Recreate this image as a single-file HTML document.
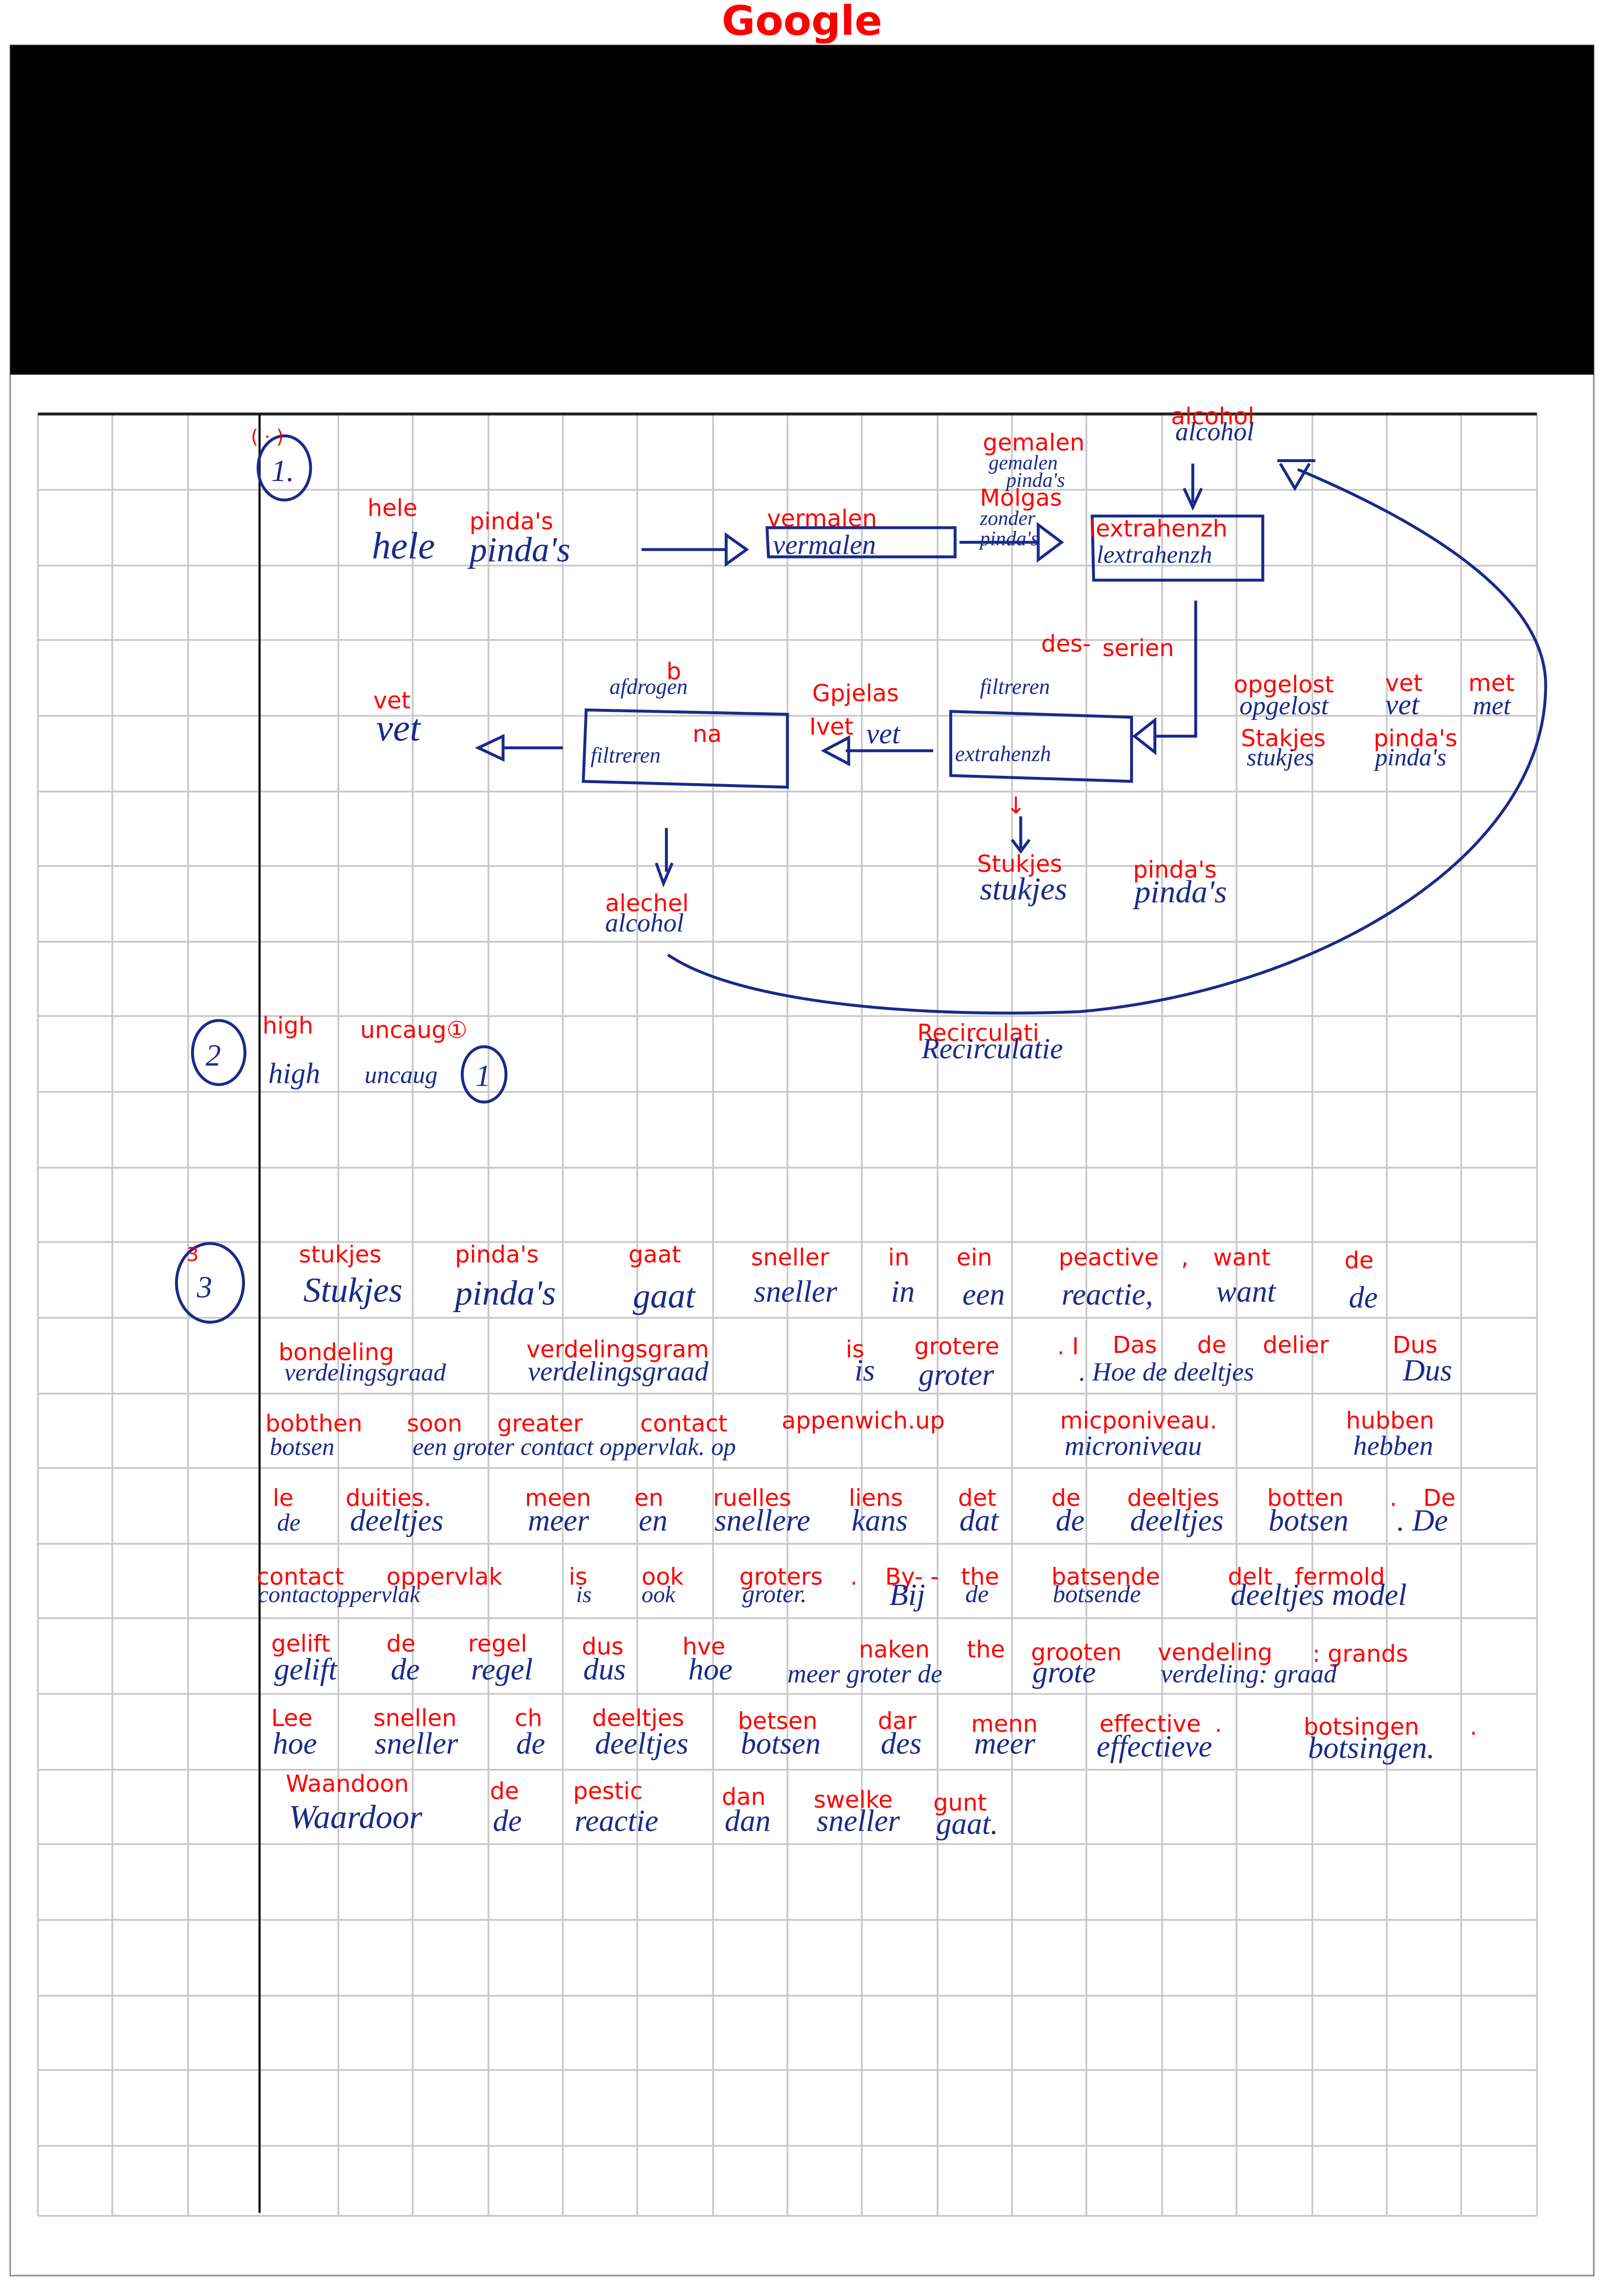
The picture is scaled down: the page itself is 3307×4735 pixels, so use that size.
<!DOCTYPE html>
<html><head><meta charset="utf-8"><style>
html,body{margin:0;padding:0;background:#fff}
svg{display:block}
.r{fill:#f00;font-family:"DejaVu Sans","Liberation Sans",sans-serif;font-size:16px}
.h{fill:#1a2a8a;font-family:"Liberation Serif",serif;font-style:italic;font-size:21px}
.b{fill:none;stroke:#1a2a8a;stroke-width:2}
</style></head><body>
<svg width="3307" height="4735" viewBox="0 0 1100 1575" preserveAspectRatio="none" xmlns="http://www.w3.org/2000/svg">
<rect width="1100" height="1575" fill="#fff"/>
<text x="550" y="24" text-anchor="middle" style="fill:#f00;font-family:'DejaVu Sans',sans-serif;font-weight:bold;font-size:28px">Google</text>
<rect x="7" y="31" width="1086" height="1530" fill="none" stroke="#888" stroke-width="1"/>
<rect x="7" y="31" width="1086" height="226" fill="#000"/>
<g stroke="#c8c8c8" stroke-width="1.2">
<line x1="26" y1="284" x2="26" y2="1520"/><line x1="77" y1="284" x2="77" y2="1520"/><line x1="129" y1="284" x2="129" y2="1520"/>
<line x1="232" y1="284" x2="232" y2="1520"/><line x1="283" y1="284" x2="283" y2="1520"/><line x1="335" y1="284" x2="335" y2="1520"/>
<line x1="386" y1="284" x2="386" y2="1520"/><line x1="437" y1="284" x2="437" y2="1520"/><line x1="489" y1="284" x2="489" y2="1520"/>
<line x1="540" y1="284" x2="540" y2="1520"/><line x1="591" y1="284" x2="591" y2="1520"/><line x1="643" y1="284" x2="643" y2="1520"/>
<line x1="694" y1="284" x2="694" y2="1520"/><line x1="745" y1="284" x2="745" y2="1520"/><line x1="797" y1="284" x2="797" y2="1520"/>
<line x1="848" y1="284" x2="848" y2="1520"/><line x1="900" y1="284" x2="900" y2="1520"/><line x1="951" y1="284" x2="951" y2="1520"/>
<line x1="1002" y1="284" x2="1002" y2="1520"/><line x1="1054" y1="284" x2="1054" y2="1520"/>
<line x1="26" y1="336" x2="1054" y2="336"/><line x1="26" y1="388" x2="1054" y2="388"/><line x1="26" y1="439" x2="1054" y2="439"/>
<line x1="26" y1="491" x2="1054" y2="491"/><line x1="26" y1="543" x2="1054" y2="543"/><line x1="26" y1="594" x2="1054" y2="594"/>
<line x1="26" y1="646" x2="1054" y2="646"/><line x1="26" y1="697" x2="1054" y2="697"/><line x1="26" y1="749" x2="1054" y2="749"/>
<line x1="26" y1="801" x2="1054" y2="801"/><line x1="26" y1="852" x2="1054" y2="852"/><line x1="26" y1="904" x2="1054" y2="904"/>
<line x1="26" y1="956" x2="1054" y2="956"/><line x1="26" y1="1007" x2="1054" y2="1007"/><line x1="26" y1="1059" x2="1054" y2="1059"/>
<line x1="26" y1="1110" x2="1054" y2="1110"/><line x1="26" y1="1162" x2="1054" y2="1162"/><line x1="26" y1="1214" x2="1054" y2="1214"/>
<line x1="26" y1="1265" x2="1054" y2="1265"/><line x1="26" y1="1317" x2="1054" y2="1317"/><line x1="26" y1="1369" x2="1054" y2="1369"/>
<line x1="26" y1="1420" x2="1054" y2="1420"/><line x1="26" y1="1472" x2="1054" y2="1472"/><line x1="26" y1="1520" x2="1054" y2="1520"/>
</g>
<line x1="26" y1="284" x2="1054" y2="284" stroke="#222" stroke-width="2"/>
<line x1="178" y1="284" x2="178" y2="1518" stroke="#111" stroke-width="1.5"/>

<ellipse cx="195" cy="321" rx="18" ry="22" class="b"/>
<text x="186" y="330" class="h" font-size="20">1.</text>
<path class="b" d="M440 377 H498 M498 367 L512 377 L498 387 Z"/>
<path class="b" d="M526 362 H655 V382 H527 Z"/>
<path class="b" d="M658 372 H712 M712 360 L728 372 L712 384 Z"/>
<path class="b" d="M749 354 H866 V398 H750 Z"/>
<path class="b" d="M818 318 V345 M812 335 L818 348 L824 335"/>
<path class="b" d="M876 316 H902 M878 318 L888 335 L898 318"/>
<path class="b" d="M820 412 V505 H792 M792 494 L778 505 L792 516 Z"/>
<path class="b" d="M652 488 L776 492 V536 L652 532 Z"/>
<path class="b" d="M640 515 H580 M582 506 L565 515 L582 524 Z"/>
<path class="b" d="M402 487 L540 490 V540 L400 536 Z"/>
<path class="b" d="M386 513 H345 M345 505 L328 513 L345 521 Z"/>
<path class="b" d="M700 560 V582 M694 576 L700 584 L706 576"/>
<path class="b" d="M457 568 V598 M450 592 L455 606 L461 592"/>
<path class="b" d="M458 655 C510 690 640 698 740 694 C900 680 1060 590 1060 470 C1060 410 980 360 890 322"/>
<ellipse cx="150" cy="722" rx="18" ry="22" class="b"/>
<text x="141" y="731" class="h">2</text>
<ellipse cx="332" cy="737" rx="15" ry="19" class="b"/>
<text x="326" y="745" class="h" font-size="18">1</text>
<ellipse cx="144" cy="880" rx="23" ry="27" class="b"/>
<text x="135" y="890" class="h" font-size="26">3</text>

<g class="r">
<text x="172" y="304" font-size="13">( · )</text>
<text x="803" y="291">alcohol</text>
<text x="674" y="309">gemalen</text>
<text x="672" y="347">Molgas</text>
<text x="252" y="354">hele</text>
<text x="322" y="363">pinda's</text>
<text x="526" y="361">vermalen</text>
<text x="747" y="368">lextrahenzh</text>
<text x="714" y="447">des-</text>
<text x="756" y="450">serien</text>
<text x="457" y="466">b</text>
<text x="557" y="481">Gpjelas</text>
<text x="256" y="486">vet</text>
<text x="846" y="475">opgelost</text>
<text x="950" y="474">vet</text>
<text x="1007" y="474">met</text>
<text x="555" y="504">Ivet</text>
<text x="475" y="509">na</text>
<text x="851" y="512">Stakjes</text>
<text x="942" y="512">pinda's</text>
<text x="690" y="558">↓</text>
<text x="670" y="598">Stukjes</text>
<text x="777" y="602">pinda's</text>
<text x="415" y="625">alechel</text>
<text x="180" y="709">high</text>
<text x="247" y="712">uncaug①</text>
<text x="629" y="714">Recirculati</text>
</g>
<g class="h">
<text x="806" y="302" font-size="18">alcohol</text>
<text x="678" y="322" font-size="14">gemalen</text>
<text x="690" y="334" font-size="14">pinda's</text>
<text x="672" y="360" font-size="14">zonder</text>
<text x="672" y="374" font-size="14">pinda's</text>
<text x="255" y="383" font-size="26">hele</text>
<text x="322" y="385" font-size="24">pinda's</text>
<text x="530" y="380" font-size="19">vermalen</text>
<text x="752" y="386" font-size="17">lextrahenzh</text>
<text x="258" y="508" font-size="26">vet</text>
<text x="850" y="490" font-size="18">opgelost</text>
<text x="950" y="490" font-size="20">vet</text>
<text x="1010" y="490" font-size="18">met</text>
<text x="855" y="525" font-size="17">stukjes</text>
<text x="943" y="525" font-size="17">pinda's</text>
<text x="594" y="510" font-size="20">vet</text>
<text x="655" y="522" font-size="15">extrahenzh</text>
<text x="405" y="523" font-size="15">filtreren</text>
<text x="418" y="476" font-size="15">afdrogen</text>
<text x="672" y="476" font-size="15">filtreren</text>
<text x="672" y="617" font-size="22">stukjes</text>
<text x="778" y="619" font-size="22">pinda's</text>
<text x="415" y="639" font-size="18">alcohol</text>
<text x="184" y="743" font-size="20">high</text>
<text x="250" y="743" font-size="17">uncaug</text>
<text x="632" y="726" font-size="20">Recirculatie</text>
</g>

<g class="r">
<text x="128" y="865" font-size="13">3</text>
<text x="205" y="866">stukjes</text><text x="312" y="866">pinda's</text><text x="431" y="866">gaat</text><text x="515" y="868">sneller</text><text x="609" y="868">in</text><text x="656" y="868">ein</text><text x="726" y="868">peactive</text><text x="810" y="868">,</text><text x="832" y="868">want</text><text x="922" y="870">de</text>
<text x="191" y="933">bondeling</text><text x="361" y="931">verdelingsgram</text><text x="580" y="931">is</text><text x="627" y="929">grotere</text><text x="725" y="929">. I</text><text x="763" y="928">Das</text><text x="821" y="928">de</text><text x="866" y="928">delier</text><text x="955" y="928">Dus</text>
<text x="182" y="982">bobthen</text><text x="279" y="982">soon</text><text x="341" y="982">greater</text><text x="439" y="982">contact</text><text x="536" y="980">appenwich.up</text><text x="727" y="980">micponiveau.</text><text x="923" y="980">hubben</text>
<text x="187" y="1033">le</text><text x="237" y="1033">duities.</text><text x="360" y="1033">meen</text><text x="435" y="1033">en</text><text x="489" y="1033">ruelles</text><text x="582" y="1033">liens</text><text x="657" y="1033">det</text><text x="721" y="1033">de</text><text x="773" y="1033">deeltjes</text><text x="869" y="1033">botten</text><text x="953" y="1033">.</text><text x="976" y="1033">De</text>
<text x="176" y="1087">contact</text><text x="265" y="1087">oppervlak</text><text x="390" y="1087">is</text><text x="440" y="1087">ook</text><text x="507" y="1087">groters</text><text x="583" y="1087">.</text><text x="607" y="1087">By- -</text><text x="659" y="1087">the</text><text x="721" y="1087">batsende</text><text x="842" y="1087">delt</text><text x="888" y="1087">fermold</text>
<text x="186" y="1133">gelift</text><text x="265" y="1133">de</text><text x="321" y="1133">regel</text><text x="399" y="1135">dus</text><text x="468" y="1135">hve</text><text x="589" y="1137">naken</text><text x="663" y="1137">the</text><text x="707" y="1139">grooten</text><text x="794" y="1139">vendeling</text><text x="900" y="1140">: grands</text>
<text x="186" y="1184">Lee</text><text x="256" y="1184">snellen</text><text x="353" y="1184">ch</text><text x="406" y="1184">deeltjes</text><text x="506" y="1186">betsen</text><text x="602" y="1186">dar</text><text x="666" y="1188">menn</text><text x="754" y="1188">effective</text><text x="833" y="1188">.</text><text x="894" y="1190">botsingen</text><text x="1008" y="1190">.</text>
<text x="196" y="1229">Waandoon</text><text x="336" y="1234">de</text><text x="393" y="1234">pestic</text><text x="495" y="1238">dan</text><text x="558" y="1240">swelke</text><text x="640" y="1242">gunt</text>
</g>
<g class="h">
<text x="208" y="893" font-size="24">Stukjes</text><text x="312" y="895" font-size="24">pinda's</text><text x="434" y="897" font-size="24">gaat</text><text x="517" y="893">sneller</text><text x="611" y="893">in</text><text x="660" y="895">een</text><text x="728" y="895">reactie,</text><text x="834" y="893">want</text><text x="925" y="897">de</text>
<text x="195" y="947" font-size="17">verdelingsgraad</text><text x="362" y="947" font-size="19">verdelingsgraad</text><text x="586" y="947">is</text><text x="630" y="950">groter</text><text x="740" y="947" font-size="18">. Hoe de deeltjes</text><text x="962" y="947">Dus</text>
<text x="185" y="998" font-size="17">botsen</text><text x="283" y="998" font-size="17">een groter contact oppervlak. op</text><text x="730" y="998" font-size="19">microniveau</text><text x="928" y="998" font-size="19">hebben</text>
<text x="190" y="1050" font-size="17">de</text><text x="240" y="1050">deeltjes</text><text x="362" y="1050">meer</text><text x="438" y="1050">en</text><text x="490" y="1050">snellere</text><text x="584" y="1050">kans</text><text x="658" y="1050">dat</text><text x="724" y="1050">de</text><text x="775" y="1050">deeltjes</text><text x="870" y="1050">botsen</text><text x="958" y="1050">. De</text>
<text x="177" y="1099" font-size="16">contactoppervlak</text><text x="395" y="1099" font-size="16">is</text><text x="440" y="1099" font-size="16">ook</text><text x="509" y="1099" font-size="17">groter.</text><text x="610" y="1101">Bij</text><text x="662" y="1099" font-size="17">de</text><text x="722" y="1099" font-size="17">botsende</text><text x="844" y="1101">deeltjes model</text>
<text x="188" y="1152">gelift</text><text x="268" y="1152">de</text><text x="323" y="1152">regel</text><text x="400" y="1152">dus</text><text x="472" y="1152">hoe</text><text x="540" y="1154" font-size="18">meer groter de</text><text x="708" y="1154">grote</text><text x="796" y="1154" font-size="18">verdeling: graad</text>
<text x="187" y="1203">hoe</text><text x="257" y="1203">sneller</text><text x="354" y="1203">de</text><text x="408" y="1203">deeltjes</text><text x="508" y="1203">botsen</text><text x="604" y="1203">des</text><text x="668" y="1203">meer</text><text x="752" y="1205">effectieve</text><text x="897" y="1206">botsingen.</text>
<text x="198" y="1254" font-size="23">Waardoor</text><text x="338" y="1256">de</text><text x="394" y="1256">reactie</text><text x="497" y="1256">dan</text><text x="560" y="1256">sneller</text><text x="642" y="1258">gaat.</text>
</g>
</svg>
</body></html>
